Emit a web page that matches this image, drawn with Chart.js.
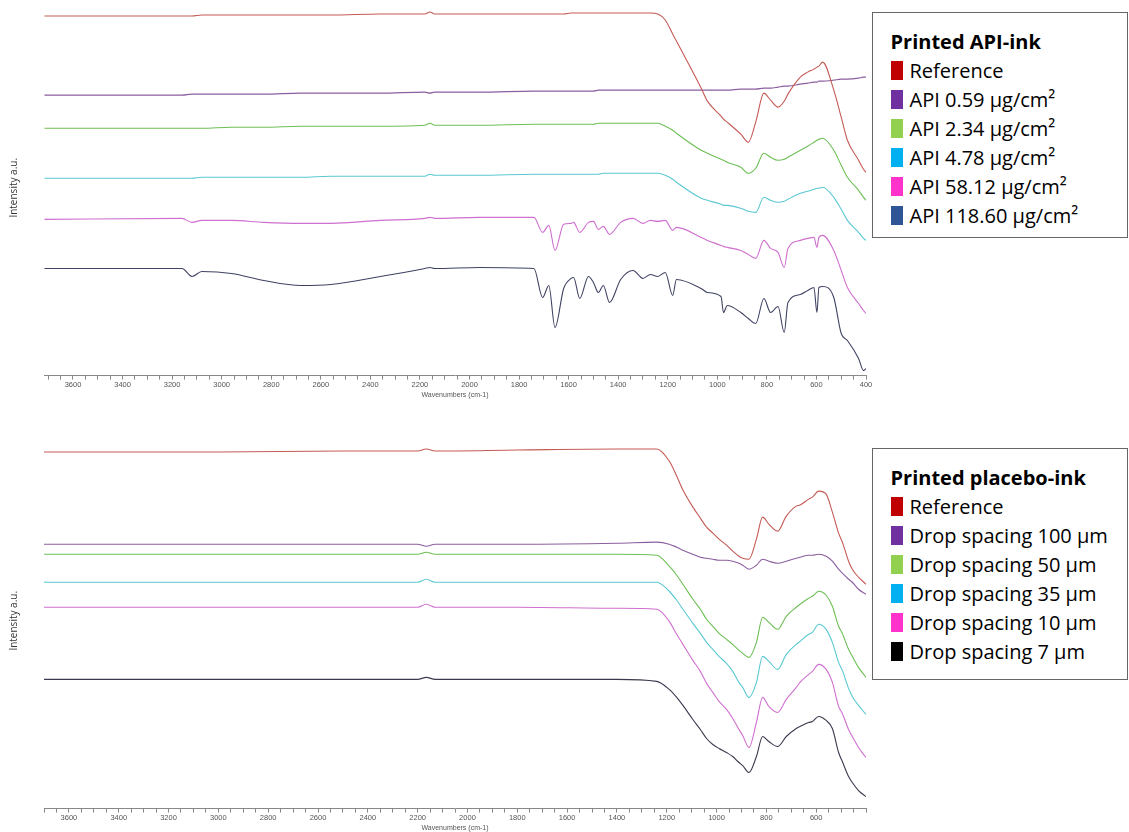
<!DOCTYPE html>
<html>
<head>
<meta charset="utf-8">
<script src="https://cdn.jsdelivr.net/npm/chart.js@4.4.1/dist/chart.umd.min.js"></script>
<style>
	body { margin: 0; width: 1129px; height: 832px; overflow: hidden; background: #fff; position: relative; font-family: "Open Sans", sans-serif; }
	canvas { position: absolute; left: 0; }
	#apiChart { top: 0; }
	#placeboChart { top: 433px; }
	.legend { position: absolute; left: 872px; width: 256px; box-sizing: border-box; border: 1.5px solid #666; background: #fff; padding: 14px 0 0 17.5px; color: #000; }
	.legend .title { font-weight: bold; font-size: 20px; height: 29px; line-height: 29px; }
	.legend .item { display: flex; align-items: center; font-size: 20px; height: 29px; line-height: 29px; white-space: nowrap; }
	.legend .box { width: 12px; height: 19px; margin-right: 7px; flex: none; }
</style>
</head>
<body>
<canvas id="apiChart" width="1129" height="400"></canvas>
<canvas id="placeboChart" width="1129" height="400"></canvas>
<div class="legend" id="apiLegend" style="top:12px; height:226px;"></div>
<div class="legend" id="placeboLegend" style="top:448px; height:232px;"></div>
<script>
	// top panel: printed API-ink (wavenumber in cm-1, intensity in a.u.)
	var apiWn = [3715, 3160, 3120, 3080, 2960, 2830, 2680, 2560, 2360, 2180,
		2160, 2140, 1960, 1740, 1705, 1680, 1655, 1620, 1590, 1580,
		1555, 1520, 1500, 1480, 1460, 1435, 1390, 1340, 1300, 1270,
		1240, 1210, 1180, 1165, 1065, 1040, 985, 975, 960, 905,
		875, 845, 812, 785, 755, 730, 715, 665, 635, 610,
		598, 590, 575, 530, 500, 475, 430, 410, 400];
	var apiReference = [359, 359, 359, 360, 360, 360, 360, 360, 361, 361,
		363, 361, 361, 361, 361, 361, 361, 361, 362, 362,
		362, 362, 362, 362, 362, 362, 362, 362, 362, 362,
		361, 355, 341, 334, 287, 274, 259, 256, 253, 241,
		233, 253, 282, 275, 268, 274, 281, 298, 303, 306,
		308, 309, 313, 285, 258, 235, 215, 206, 203];
	var api059 = [280, 280, 281, 281, 281, 281, 282, 282, 282, 283,
		282, 283, 283, 284, 284, 284, 284, 284, 284, 284,
		284, 284, 284, 285, 285, 285, 285, 285, 285, 285,
		285, 285, 285, 285, 285, 285, 285, 285, 285, 286,
		286, 286, 287, 287, 288, 289, 289, 291, 292, 293,
		293, 294, 294, 295, 296, 296, 297, 298, 298];
	var api234 = [247, 247, 247, 247, 248, 248, 249, 249, 249, 250,
		252, 250, 250, 251, 251, 251, 251, 251, 251, 251,
		251, 251, 251, 252, 252, 252, 252, 252, 252, 252,
		252, 249, 245, 242, 225, 222, 216, 215, 213, 208,
		202, 207, 222, 218, 215, 216, 218, 225, 229, 233,
		235, 236, 237, 225, 210, 198, 185, 178, 175];
	var api478 = [197, 197, 197, 198, 198, 198, 198, 199, 199, 199,
		201, 200, 200, 201, 201, 201, 201, 201, 201, 201,
		201, 201, 201, 201, 202, 202, 202, 202, 202, 202,
		202, 200, 196, 193, 177, 175, 171, 170, 170, 167,
		164, 163, 178, 175, 173, 174, 176, 182, 184, 186,
		187, 187, 188, 178, 166, 155, 143, 137, 135];
	var api5812 = [156, 157, 153, 155, 155, 153, 152, 152, 155, 157,
		158, 157, 158, 158, 143, 150, 125, 151, 152, 153,
		143, 153, 154, 146, 149, 141, 153, 157, 152, 155,
		154, 155, 145, 148, 138, 135, 130, 129, 128, 125,
		121, 117, 135, 127, 123, 108, 127, 135, 137, 138,
		128, 138, 140, 125, 105, 88, 72, 65, 62];
	var api11860 = [107, 107, 99, 104, 102, 95, 90, 91, 99, 107,
		108, 107, 108, 107, 78, 90, 48, 87, 97, 98,
		77, 99, 93, 83, 90, 73, 96, 105, 97, 101,
		99, 103, 80, 96, 87, 83, 79, 63, 70, 63,
		57, 52, 77, 63, 69, 43, 73, 81, 85, 88,
		63, 88, 89, 78, 42, 35, 17, 5, 7];
	var apiLabels = ["Reference", "API 0.59 µg/cm²", "API 2.34 µg/cm²", "API 4.78 µg/cm²", "API 58.12 µg/cm²", "API 118.60 µg/cm²"];
	var apiLineColors = ["#c45a55", "#8b5e9e", "#6dbf55", "#5ac8d2", "#cf6fcf", "#3f4263"];
	var apiKeyColors = ["#c00000", "#7030a0", "#92d050", "#00b0f0", "#ff33cc", "#2f5597"];

	// bottom panel: printed placebo-ink
	var placeboWn = [3700, 3000, 2500, 2200, 2165, 2130, 1800, 1400, 1240, 1190,
		1160, 1135, 1095, 1065, 1040, 1015, 990, 960, 935, 910,
		895, 870, 840, 815, 790, 755, 720, 680, 665, 630,
		615, 590, 560, 535, 510, 495, 470, 455, 430, 400];
	var placeboReference = [356, 356, 357, 357, 359, 357, 358, 359, 359, 347,
		332, 318, 301, 290, 281, 275, 269, 263, 257, 252,
		250, 249, 269, 291, 284, 277, 292, 302, 303, 309,
		311, 317, 314, 296, 275, 266, 247, 239, 231, 224];
	var drop100 = [264, 264, 264, 264, 262, 264, 264, 265, 266, 264,
		261, 258, 254, 251, 250, 249, 248, 248, 247, 245,
		243, 239, 243, 249, 247, 245, 247, 250, 251, 253,
		253, 254, 252, 247, 239, 235, 229, 226, 219, 214];
	var drop50 = [254, 254, 254, 254, 256, 254, 254, 254, 253, 242,
		233, 224, 209, 199, 189, 182, 175, 169, 164, 158,
		155, 151, 166, 191, 186, 179, 192, 201, 204, 210,
		212, 217, 213, 202, 182, 175, 159, 152, 141, 131];
	var drop35 = [226, 226, 226, 226, 229, 226, 226, 226, 226, 217,
		208, 199, 185, 175, 166, 159, 152, 145, 137, 126,
		121, 111, 126, 152, 147, 139, 154, 164, 167, 174,
		176, 184, 179, 166, 146, 138, 120, 112, 103, 94];
	var drop10 = [201, 201, 201, 201, 204, 201, 201, 200, 199, 187,
		174, 164, 148, 137, 125, 116, 107, 99, 90, 79,
		73, 61, 86, 111, 102, 96, 109, 121, 126, 134,
		137, 144, 139, 126, 102, 95, 79, 72, 61, 51];
	var drop7 = [129, 129, 129, 129, 131, 129, 129, 129, 127, 119,
		111, 103, 89, 79, 70, 64, 60, 56, 52, 46,
		43, 36, 52, 72, 67, 62, 72, 80, 82, 86,
		87, 92, 88, 80, 56, 47, 32, 26, 18, 12];
	var placeboLabels = ["Reference", "Drop spacing 100 µm", "Drop spacing 50 µm", "Drop spacing 35 µm", "Drop spacing 10 µm", "Drop spacing 7 µm"];
	var placeboLineColors = ["#c45a55", "#8b5e9e", "#6dbf55", "#5ac8d2", "#cf6fcf", "#3a3a4e"];
	var placeboKeyColors = ["#c00000", "#7030a0", "#92d050", "#00b0f0", "#ff33cc", "#000000"];

	var tickFont = { family: "'Liberation Sans', Arial, sans-serif", size: 7.5 };

	function makeDatasets(wn, series, labels, colors) {
		return series.map(function(vals, k) {
			return {
				label: labels[k],
				data: wn.map(function(w, i) { return { x: w, y: vals[i] }; }),
				borderColor: colors[k],
				borderWidth: 1.1,
				pointRadius: 0,
				fill: false,
				cubicInterpolationMode: "monotone"
			};
		});
	}

	function makeOptions(maxWn, showLast) {
		return {
			responsive: false,
			animation: false,
			layout: { padding: { left: 0, right: 263, top: 0, bottom: 0 } },
			plugins: { legend: { display: false }, tooltip: { enabled: false } },
			scales: {
				x: {
					type: "linear",
					reverse: true,
					min: 400,
					max: maxWn,
					grid: { drawOnChartArea: false, drawTicks: true, tickLength: 4, tickColor: "#888" },
					border: { display: true, color: "#888", width: 1 },
					ticks: {
						stepSize: 50,
						includeBounds: false,
						autoSkip: false,
						maxRotation: 0,
						padding: 1,
						color: "#555",
						font: tickFont,
						callback: function(v) {
							if (v % 200 !== 0) return "";
							if (v === 400 && !showLast) return "";
							return String(v);
						}
					},
					title: { display: true, text: "Wavenumbers (cm-1)", color: "#555", font: { family: tickFont.family, size: 7 }, padding: { top: 0, bottom: 1 } }
				},
				y: {
					min: 0,
					max: 375,
					grid: { display: false },
					border: { display: false },
					ticks: { display: false },
					title: { display: true, text: "Intensity a.u.", color: "#333", font: { family: "'Open Sans', sans-serif", size: 10 }, padding: { top: 8, bottom: 0 } },
					afterFit: function(scale) { scale.width = 44; }
				}
			}
		};
	}

	function makeLegend(id, title, labels, colors) {
		var el = document.getElementById(id);
		var html = '<div class="title">' + title + '</div>';
		for (var i = 0; i < labels.length; i++) {
			html += '<div class="item"><span class="box" style="background:' + colors[i] + '"></span>' + labels[i] + '</div>';
		}
		el.innerHTML = html;
	}

	new Chart("apiChart", {
		type: "line",
		data: { datasets: makeDatasets(apiWn, [apiReference, api059, api234, api478, api5812, api11860], apiLabels, apiLineColors) },
		options: makeOptions(3717, true)
	});

	new Chart("placeboChart", {
		type: "line",
		data: { datasets: makeDatasets(placeboWn, [placeboReference, drop100, drop50, drop35, drop10, drop7], placeboLabels, placeboLineColors) },
		options: makeOptions(3700, false)
	});

	makeLegend("apiLegend", "Printed API-ink", apiLabels, apiKeyColors);
	makeLegend("placeboLegend", "Printed placebo-ink", placeboLabels, placeboKeyColors);
</script>
</body>
</html>
